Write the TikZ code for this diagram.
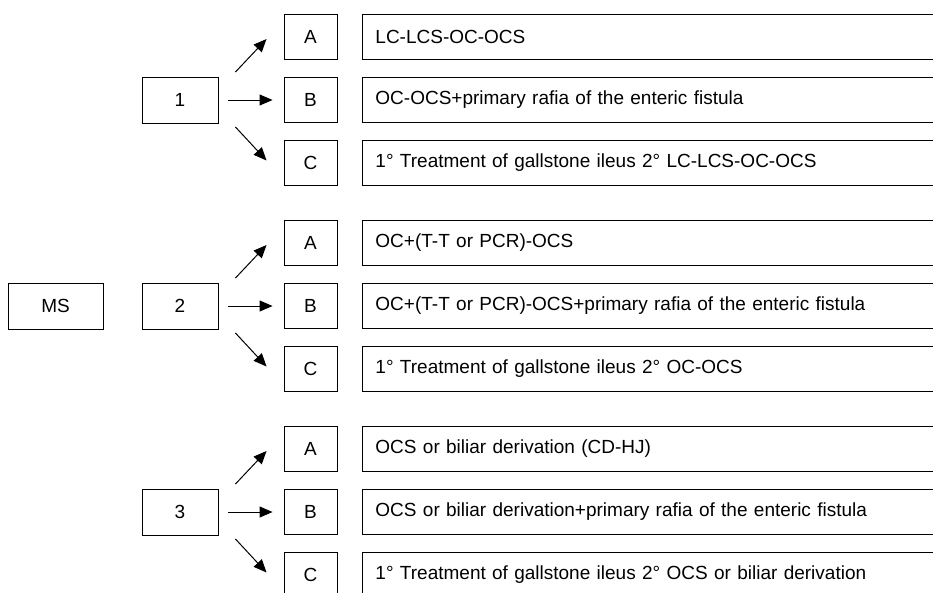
\documentclass[tikz,border=0pt]{standalone}
\usepackage{fontspec}
\setmainfont{Liberation Sans}
\usetikzlibrary{arrows.meta,calc}
\begin{document}
\begin{tikzpicture}[x=1pt,y=-1pt,
  font=\fontsize{19}{22}\selectfont,
  box/.style={draw,line width=0.9pt,inner sep=0pt,minimum height=46pt},
  lbox/.style={box,minimum width=76pt},
  abox/.style={box,minimum width=53pt,minimum height=45pt},
  rbox/.style={draw,line width=0.9pt,anchor=west,minimum height=45pt,text width=600pt,inner xsep=13pt,inner ysep=0pt,align=left},
  arr/.style={line width=1pt,-{Triangle[length=13pt,width=11pt]}}]
\useasboundingbox (0,0) rectangle (933,592);
\node[box,minimum width=95pt] (ms) at (55.5,306) {MS};
\foreach \g/\y/\ta/\tb/\tc in {
  1/100/{LC-LCS-OC-OCS}/{OC-OCS+primary rafia of the enteric fistula}/{1° Treatment of gallstone ileus 2° LC-LCS-OC-OCS},
  2/306/{OC+(T-T or PCR)-OCS}/{OC+(T-T or PCR)-OCS+primary rafia of the enteric fistula}/{1° Treatment of gallstone ileus 2° OC-OCS},
  3/512/{OCS or biliar derivation (CD-HJ)}/{OCS or biliar derivation+primary rafia of the enteric fistula}/{1° Treatment of gallstone ileus 2° OCS or biliar derivation}}{
  \node[lbox] (n\g) at (180,\y) {\g};
  \node[abox] (a\g) at (310.5,\y-63.5) {A};
  \node[abox] (b\g) at (310.5,\y) {B};
  \node[abox] (c\g) at (310.5,\y+62.5) {C};
  \node[rbox] (ra\g) at (362,\y-63.5) {\ta};
  \node[rbox] (rb\g) at (362,\y) {\tb};
  \node[rbox] (rc\g) at (362,\y+62.5) {\tc};
  \draw[arr,shorten <=10pt,shorten >=11pt] (n\g.east) -- (b\g.west);
  \draw[arr] ($(n\g.east)+(17,-28)$) -- ($(a\g.west)+(-17,2.5)$);
  \draw[arr] ($(n\g.east)+(17,27)$) -- ($(c\g.west)+(-17,-2)$);
}
\end{tikzpicture}
\end{document}
